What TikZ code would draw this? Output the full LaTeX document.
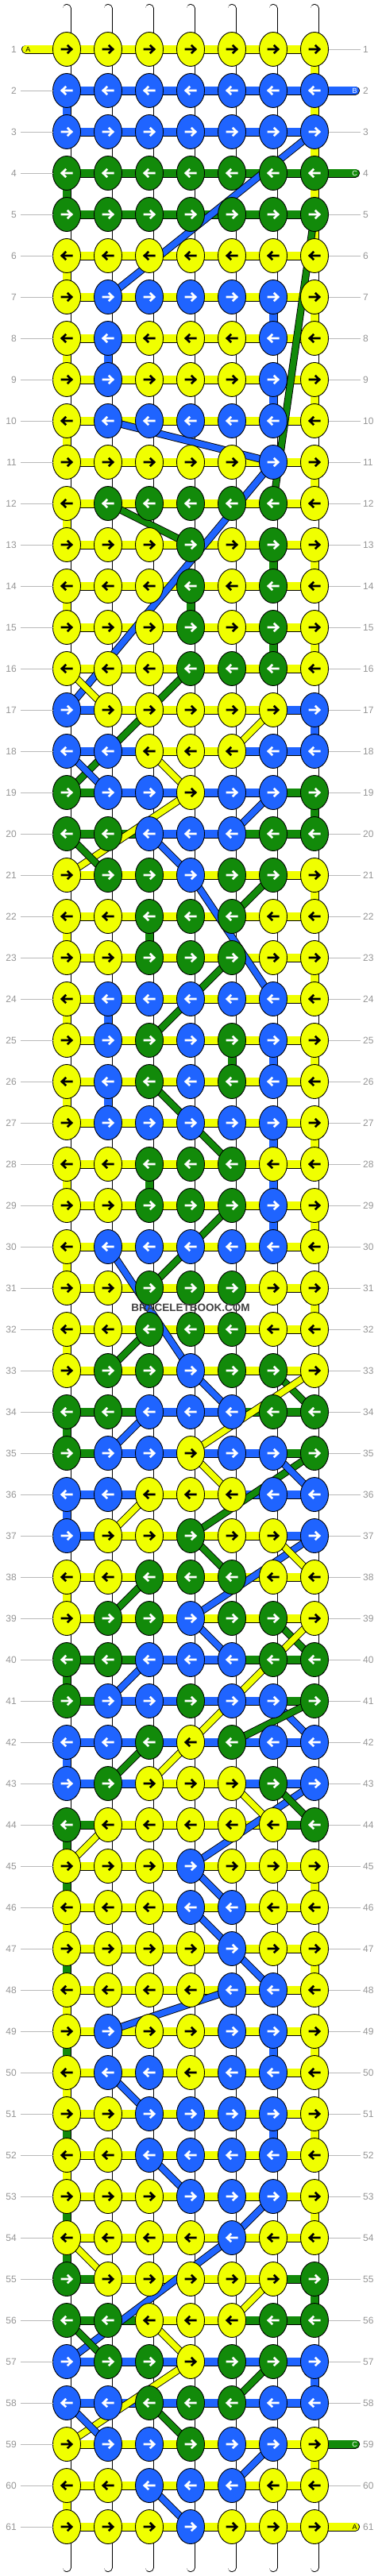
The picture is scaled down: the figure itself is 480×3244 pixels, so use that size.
\documentclass[tikz,border=0pt]{standalone}
\usepackage{fontspec}
\setmainfont{Liberation Sans}
\usetikzlibrary{shapes.geometric}
\definecolor{Y}{RGB}{240,255,0}
\definecolor{B}{RGB}{31,100,255}
\definecolor{G}{RGB}{18,138,10}
\colorlet{aY}{black}
\colorlet{aB}{white}
\colorlet{aG}{white}
\definecolor{numgray}{RGB}{150,150,150}
\definecolor{linegray}{RGB}{185,185,185}
\definecolor{markgray}{RGB}{64,64,64}
\tikzset{
  strandbar/.style={draw=black, line width=0.9pt, double=#1, double distance=9.2pt},
  diagbar/.style={draw=black, line width=0.9pt, double=#1, double distance=7.6pt},
  knotnode/.style={ellipse, draw=black, line width=0.9pt, fill=#1, minimum width=35pt, minimum height=43pt, inner sep=0pt, outer sep=0pt},
  arrowmark/.style={draw=#1, line width=2.6pt, line join=miter, line cap=butt},
  rownum/.style={text=numgray, font=\fontsize{12}{12}\selectfont, inner sep=0pt},
  labelline/.style={draw=linegray, line width=0.9pt},
  endletter/.style={text=#1, font=\fontsize{9}{9}\selectfont, inner sep=0pt},
}
\makeatletter
\newcount\kc
\newcommand\rowbars[2]{%
  \global\kc=0
  \edef\tmpa{\noexpand\@tfor\noexpand\kcol:=#2\noexpand\do}%
  \tmpa{\global\advance\kc by 1
    \pgfmathtruncatemacro\nx{\the\kc+1}%
    \draw[strandbar=\kcol] (p-#1-\the\kc) -- (p-#1-\nx);}%
}
\newcommand\rowknots[2]{%
  \global\kc=0
  \edef\tmpa{\noexpand\@tfor\noexpand\kcol:=#2\noexpand\do}%
  \tmpa{\global\advance\kc by 1
    \node[knotnode=\kcol] (k-#1-\the\kc) at (p-#1-\the\kc) {};%
    \ifodd#1\relax
      \draw[arrowmark=a\kcol, shift={(p-#1-\the\kc)}] (-7.5,0) -- (6,0) (0.8,-5.2) -- (6.2,0) -- (0.8,5.2);%
    \else
      \draw[arrowmark=a\kcol, shift={(p-#1-\the\kc)}] (7.5,0) -- (-6,0) (-0.8,-5.2) -- (-6.2,0) -- (-0.8,5.2);%
    \fi}%
}
\makeatother
\def\rowdata{1/YYYYYYY/YYYYYY,
2/BBBBBBB/BBBBBB,
3/BBBBBBB/BBBBBB,
4/GGGGGGG/GGGGGG,
5/GGGGGGG/GGGGGG,
6/YYYYYYY/YYYYYY,
7/YBBBBBY/YYYYYY,
8/YBYYYBY/YYYYYY,
9/YBYYYBY/YYYYYY,
10/YBBBBBY/YYYYYY,
11/YYYYYBY/YYYYYY,
12/YGGGGGY/YYYYYY,
13/YYYGYGY/YYYYYY,
14/YYYGYGY/YYYYYY,
15/YYYGYGY/YYYYYY,
16/YYYGGGY/YYYYYY,
17/BYYYYYB/BYYYYB,
18/BBYYYBB/BBYYBB,
19/GBBYBBG/GBBBBG,
20/GGBBBGG/GGBBGG,
21/YGGBGGY/YYYYYY,
22/YYGGGYY/YYYYYY,
23/YYGGGYY/YYYYYY,
24/YBBBBBY/YYYYYY,
25/YBGBGBY/YYYYYY,
26/YBGBGBY/YYYYYY,
27/YBBBBBY/YYYYYY,
28/YYGGGYY/YYYYYY,
29/YYGGGBY/YYYYYY,
30/YBBBBBY/YYYYYY,
31/YYGGGYY/YYYYYY,
32/YYGGGYY/YYYYYY,
33/YGGBGGY/YYYYYY,
34/GGBBBGG/GGBBGG,
35/GBBYBBG/GBBBBG,
36/BBYYYBB/BBYYBB,
37/BYYGYYB/BYYYYB,
38/YYGGGYY/YYYYYY,
39/YGGBGGY/YYYYYY,
40/GGBBBGG/GGBBGG,
41/GBBGBBG/GBBBBG,
42/BBGYGBB/BBBBBB,
43/BGYYYGB/BBYYBB,
44/GYYYYYG/GYYYYG,
45/YYYBYYY/YYYYYY,
46/YYYBBYY/YYYYYY,
47/YYYYBYY/YYYYYY,
48/YYYYBBY/YYYYYY,
49/YBYYBBY/YYYYYY,
50/YBBYBBY/YYYYYY,
51/YYBBBBY/YYYYYY,
52/YYBBBBY/YYYYYY,
53/YYYBBBY/YYYYYY,
54/YYYYBYY/YYYYYY,
55/GYYYYYG/GYYYYG,
56/GGYYYGG/GGYYGG,
57/BGGYGGB/BBBBBB,
58/BBGGGBB/BBBBBB,
59/YBBGBBY/YYYYYY,
60/YYBBBYY/YYYYYY,
61/YYYBYYY/YYYYYY}
\begin{document}
\begin{tikzpicture}[x=1pt,y=-1pt]
\useasboundingbox (0,0) rectangle (480,3244);
\fill[white] (0,0) rectangle (480,3244);
% grid points
\foreach \r in {1,...,61}{\foreach \cl in {1,...,7}{\coordinate (p-\r-\cl) at ({32+52*\cl},{10+52*\r});}}
% white base strands
\foreach \cl in {1,...,7}{
  \coordinate (t-\cl) at ({32+52*\cl},10.5);
  \coordinate (u-\cl) at ({32+52*\cl},3233.5);
  \draw[strandbar=white, line cap=round] (t-\cl) -- (u-\cl);
}
% coloured vertical links between rows
\foreach \r/\cl/\k in {1/7/Y, 2/1/B, 2/7/Y, 3/7/Y, 4/1/G, 4/7/Y, 5/7/Y, 6/1/Y, 7/6/B, 7/7/Y, 8/1/Y, 8/2/B, 9/6/B, 9/7/Y, 10/1/Y, 11/7/Y, 12/1/Y, 13/6/G, 13/7/Y, 14/1/Y, 14/4/G, 15/6/G, 15/7/Y, 17/7/B, 19/7/G, 21/7/Y, 22/1/Y, 22/3/G, 23/7/Y, 24/1/Y, 24/2/B, 25/5/G, 25/6/B, 25/7/Y, 26/1/Y, 26/2/B, 27/6/B, 27/7/Y, 28/1/Y, 28/3/G, 28/6/B, 29/6/B, 29/7/Y, 30/1/Y, 31/7/Y, 32/1/Y, 34/1/G, 36/1/B, 38/1/Y, 40/1/G, 42/1/B, 44/1/G, 45/1/G, 45/7/Y, 46/1/Y, 47/1/G, 47/7/Y, 48/1/Y, 49/1/G, 49/6/B, 49/7/Y, 50/1/Y, 51/1/G, 51/6/B, 51/7/Y, 52/1/Y, 53/1/G, 53/7/Y, 54/1/G, 55/7/G, 57/7/B, 59/7/Y, 60/1/Y}{
  \pgfmathtruncatemacro\rn{\r+1}
  \draw[strandbar=\k] (p-\r-\cl) -- (p-\rn-\cl);
}
% horizontal row links
\foreach \r/\rk/\rh in \rowdata {\rowbars{\r}{\rh}}
% strand ends
\coordinate (ea1) at (32.5,62);
\coordinate (eb2) at (447.5,114);
\coordinate (ec4) at (447.5,218);
\coordinate (ec59) at (447.5,3078);
\coordinate (ea61) at (447.5,3182);
\draw[strandbar=Y, line cap=round] (ea1) -- (p-1-1);
\draw[strandbar=B, line cap=round] (p-2-7) -- (eb2);
\draw[strandbar=G, line cap=round] (p-4-7) -- (ec4);
\draw[strandbar=G, line cap=round] (p-59-7) -- (ec59);
\draw[strandbar=Y, line cap=round] (p-61-7) -- (ea61);
% travelling strands
\foreach \a/\b/\cc/\d/\k in {3/7/7/2/B, 5/7/12/6/G, 10/2/11/6/B, 11/6/17/1/B, 12/2/13/4/G, 16/1/17/2/Y, 16/4/19/1/G, 17/6/18/5/Y, 18/1/19/2/B, 18/3/19/4/Y, 19/4/21/1/Y, 19/6/20/5/B, 20/1/21/2/G, 20/3/21/4/B, 21/4/24/6/B, 21/6/22/5/G, 23/5/25/3/G, 26/3/28/5/G, 29/5/31/3/G, 30/2/33/4/B, 32/3/33/2/G, 33/4/34/5/B, 33/6/34/7/G, 33/7/35/4/Y, 34/3/35/2/B, 35/4/36/5/Y, 35/7/37/4/G, 35/6/36/7/B, 36/3/37/2/Y, 37/4/38/5/G, 37/7/39/4/B, 37/6/38/7/Y, 38/3/39/2/G, 39/4/40/5/B, 39/6/40/7/G, 39/7/43/3/Y, 40/3/41/2/B, 41/6/42/7/B, 41/7/42/5/G, 42/3/43/2/G, 43/7/45/4/B, 43/6/44/7/G, 43/5/44/6/Y, 44/2/45/1/Y, 45/4/46/5/B, 46/4/47/5/B, 47/5/48/6/B, 48/5/49/2/B, 50/2/51/3/B, 52/3/53/4/B, 53/6/54/5/B, 54/1/55/2/Y, 54/5/57/1/B, 55/6/56/5/Y, 56/1/57/2/G, 56/3/57/4/Y, 57/4/59/1/Y, 57/6/58/5/G, 58/1/59/2/B, 58/3/59/4/G, 59/6/60/5/B, 60/3/61/4/B}{
  \draw[diagbar=\k] (p-\a-\b) -- (p-\cc-\d);
}
% knots
\foreach \r/\rk/\rh in \rowdata {\rowknots{\r}{\rk}}
% strand letters
\node[endletter=black] (la1) at (35.5,62.5) {A};
\node[endletter=white] (lb2) at (446.5,114.5) {B};
\node[endletter=white] (lc4) at (446.5,218.5) {C};
\node[endletter=white] (lc59) at (446.5,3078.5) {C};
\node[endletter=black] (la61) at (446.5,3182.5) {A};
% row numbers and guide lines
\foreach \r in {1,...,61}{
  \node[rownum, anchor=east] (nl-\r) at (21,{10+52*\r}) {\r};
  \node[rownum, anchor=west] (nr-\r) at (457,{10+52*\r}) {\r};
}
\foreach \r in {2,...,61}{\draw[labelline] ([xshift=5pt]nl-\r.east) -- (k-\r-1.west);}
\foreach \r in {1,...,61}{%
  \ifnum\r=2 \else\ifnum\r=4 \else\ifnum\r=59 \else\ifnum\r=61 \else
    \draw[labelline] (k-\r-7.east) -- ([xshift=-3pt]nr-\r.west);
  \fi\fi\fi\fi}
% watermark
\node[font=\bfseries\fontsize{13.5}{13.5}\selectfont, text=markgray, inner sep=0pt] (wm) at (240,1647) {BRACELETBOOK.COM};
\end{tikzpicture}
\end{document}
